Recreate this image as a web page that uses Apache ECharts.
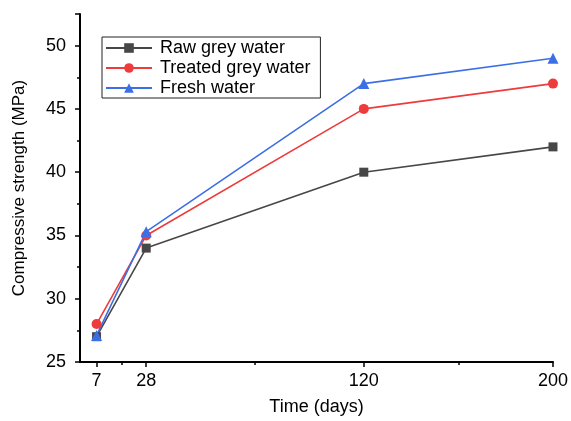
<!DOCTYPE html>
<html>
<head>
<meta charset="utf-8">
<script src="https://cdn.jsdelivr.net/npm/echarts@6/dist/echarts.min.js"></script>
<style>
  html, body { margin: 0; padding: 0; background: #fff; }
  #chart { width: 571px; height: 421px; }
</style>
</head>
<body>
<div id="chart"></div>
<script>
// data
var days = [7, 28, 120, 200];
var rawGrey = [27, 34, 40, 42];
var treatedGrey = [28, 35, 45, 47];
var freshWater = [27.1, 35.3, 47, 49];
var xMajorTicks = [7, 28, 120, 200];
var xMinorTicks = [17.5, 74, 160];

function pairs(xs, ys) {
    var out = [];
    for (var i = 0; i < xs.length; i++) {
        out.push([xs[i], ys[i]]);
    }
    return out;
}

var font = 'Liberation Sans, Arial, sans-serif';

var chart = echarts.init(document.getElementById('chart'));
chart.setOption({
    animation: false,
    textStyle: { fontFamily: font },
    grid: { left: 80, right: 18, top: 14, bottom: 58 },
    legend: {
        orient: 'vertical',
        left: 102,
        top: 37,
        padding: [2, 10, 1, 3],
        itemGap: 2,
        itemWidth: 46,
        itemHeight: 12,
        borderColor: '#222',
        borderWidth: 1,
        textStyle: { fontSize: 18, color: '#000', fontFamily: font, padding: [0, 0, 0, 3] },
        data: ['Raw grey water', 'Treated grey water', 'Fresh water']
    },
    xAxis: [{
        type: 'value',
        min: 0,
        max: 200,
        name: 'Time (days)',
        nameLocation: 'middle',
        nameGap: 36,
        nameTextStyle: { fontSize: 18, color: '#000' },
        axisLine: { lineStyle: { color: '#000', width: 2 } },
        axisTick: { customValues: xMajorTicks, length: 5, lineStyle: { color: '#000', width: 1.5 } },
        axisLabel: { customValues: xMajorTicks, fontSize: 18, color: '#000', margin: 10 },
        splitLine: { show: false }
    }, {
        // minor ticks only
        type: 'value',
        min: 0,
        max: 200,
        position: 'bottom',
        axisLine: { show: false },
        axisTick: { customValues: xMinorTicks, length: 3, lineStyle: { color: '#000', width: 1.5 } },
        axisLabel: { show: false },
        splitLine: { show: false }
    }],
    yAxis: {
        type: 'value',
        min: 25,
        max: 52.5,
        interval: 5,
        name: 'Compressive strength (MPa)',
        nameLocation: 'middle',
        nameGap: 52,
        nameTextStyle: { fontSize: 17, color: '#000' },
        axisLine: { show: true, lineStyle: { color: '#000', width: 2 } },
        axisTick: { show: true, length: 5, lineStyle: { color: '#000', width: 1.5 } },
        minorTick: { show: true, splitNumber: 2, length: 3, lineStyle: { color: '#000', width: 1.5 } },
        axisLabel: { fontSize: 18, color: '#000', margin: 14,
            formatter: function (v) { return v % 5 === 0 ? v : ''; } },
        splitLine: { show: false }
    },
    series: [{
        name: 'Raw grey water',
        type: 'line',
        data: pairs(days, rawGrey),
        symbol: 'rect',
        symbolSize: 9,
        color: '#474747',
        lineStyle: { width: 1.6 }
    }, {
        name: 'Treated grey water',
        type: 'line',
        data: pairs(days, treatedGrey),
        symbol: 'circle',
        symbolSize: 10,
        color: '#ee3b3b',
        lineStyle: { width: 1.6 }
    }, {
        name: 'Fresh water',
        type: 'line',
        data: pairs(days, freshWater),
        symbol: 'triangle',
        symbolSize: 11,
        color: '#3c6fe6',
        lineStyle: { width: 1.6 }
    }]
});
</script>
</body>
</html>
